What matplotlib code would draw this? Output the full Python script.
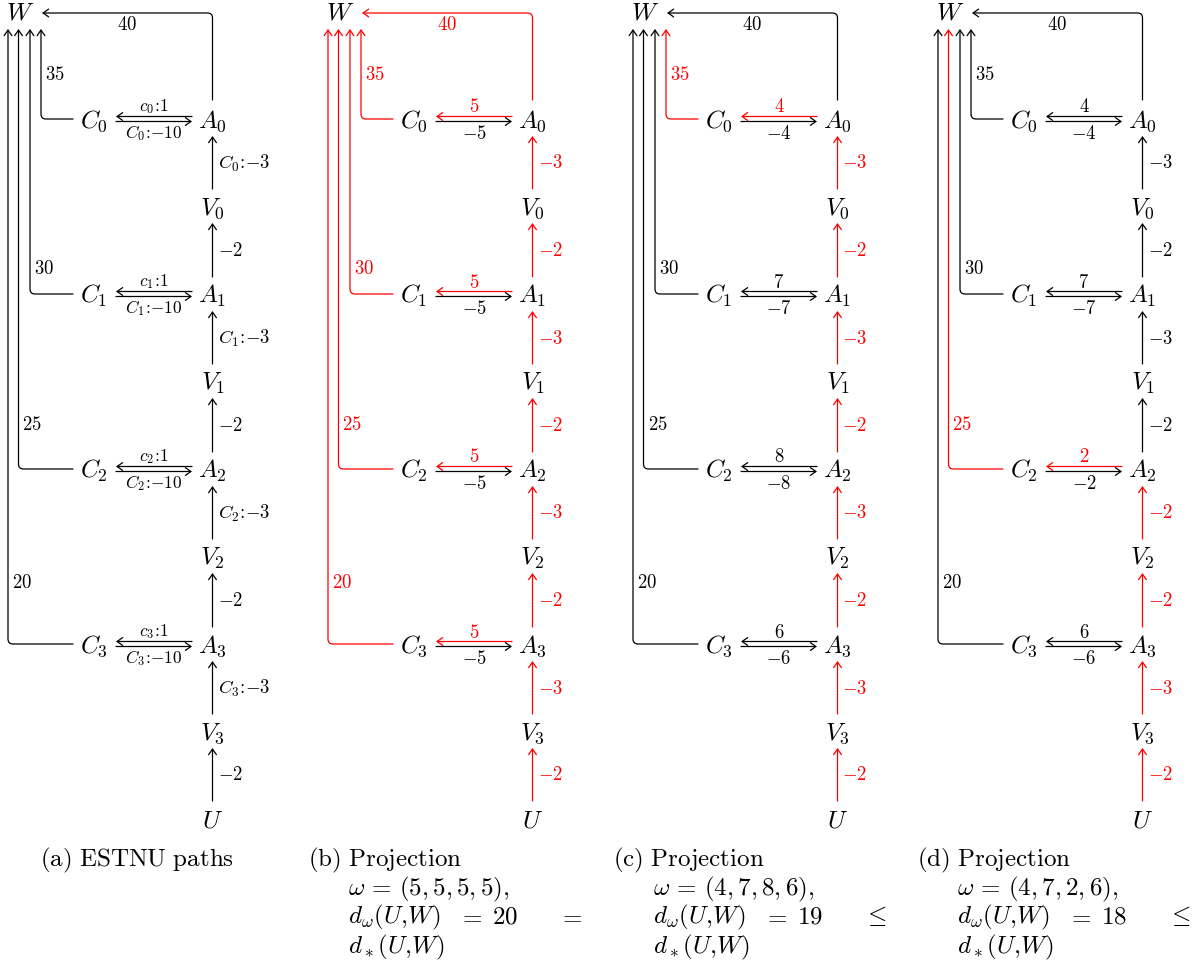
import matplotlib.pyplot as plt
from matplotlib.patches import FancyArrowPatch

plt.rcParams['mathtext.fontset'] = 'cm'

# ---- data ----
caption_tags = ['(a)', '(b)', '(c)', '(d)']
caption_titles = ['ESTNU paths', 'Projection', 'Projection', 'Projection']
omegas = [None, (5, 5, 5, 5), (4, 7, 8, 6), (4, 7, 2, 6)]
d_omega = [None, 20, 19, 18]
d_relation = [None, '=', r'\leq', r'\leq']

cw_weights = [35, 30, 25, 20]      # C_i -> W
aw_weight = 40                     # A_0 -> W
av_weight = -2                     # A_{i+1} -> V_i  and  U -> V_3
# V_i -> A_i in the projections (panel a shows C_i:-3)
va_weights = [None, [-3, -3, -3, -3], [-3, -3, -3, -3], [-3, -3, -2, -3]]
# A_i -> C_i / C_i -> A_i in the projections (panel a shows c_i:1 / C_i:-10)
upper_weights = [None, [5, 5, 5, 5], [4, 7, 8, 6], [4, 7, 2, 6]]

# highlighted (red) parts of each panel
red_cw = [[0, 0, 0, 0], [1, 1, 1, 1], [1, 0, 0, 0], [0, 0, 1, 0]]
red_upper = [[0, 0, 0, 0], [1, 1, 1, 1], [1, 0, 0, 0], [0, 0, 1, 0]]
red_aw = [0, 1, 0, 0]
red_chain = [0, 8, 8, 4]           # red edges counted upward from U

# ---- layout (pixels) ----
panel_x = [0, 320, 625, 930]
caption_x = [40, 308, 613, 917]
row_A = [119 + 175 * i for i in range(4)]
row_V = [206 + 175 * i for i in range(4)]
row_U = 818
x_W, y_W = 20, 14
x_C, x_A = 94, 212.5
x_cw = [41, 30, 18.5, 8]
cw_label_y = [75, 269, 425, 582]
gap = 17

RED = '#ff0000'
NODE_FS = 18
EDGE_FS = 13.5
SMALL_FS = 12.5

fig = plt.figure(figsize=(12.04, 9.66), dpi=100)
ax = fig.add_axes([0, 0, 1, 1])
ax.set_xlim(0, 1204)
ax.set_ylim(966, 0)
ax.axis('off')


def arrow(p0, p1, color, corner=None):
    if corner:
        cs = 'angle,angleA=%d,angleB=%d,rad=5' % corner
    else:
        cs = 'arc3,rad=0'
    ax.add_patch(FancyArrowPatch(p0, p1, arrowstyle='->,head_length=0.4,head_width=0.28',
                                 mutation_scale=10, connectionstyle=cs,
                                 shrinkA=0, shrinkB=0, color=color, lw=0.9))


def node(x, y, s):
    ax.text(x, y + 9, s, fontsize=NODE_FS, ha='center', va='baseline')


def col(flag):
    return RED if flag else 'black'


for p in range(4):
    ox = panel_x[p]
    xa = ox + x_A
    node(ox + x_W, y_W - 4, r'$W$')

    # A_0 -> W
    c = col(red_aw[p])
    arrow((xa, row_A[0] - 19), (ox + x_cw[0] + 1, 13), c, corner=(90, 0))
    ax.text(ox + 127, 25, r'$%d$' % aw_weight, fontsize=EDGE_FS, color=c,
            ha='center', va='center')

    for i in range(4):
        y = row_A[i]
        node(ox + x_C, y, r'$C_%d$' % i)
        node(xa, y, r'$A_%d$' % i)
        node(xa, row_V[i], r'$V_%d$' % i)

        # C_i -> W
        c = col(red_cw[p][i])
        arrow((ox + 73, y), (ox + x_cw[i], 29), c, corner=(0, 90))
        ax.text(ox + x_cw[i] + 4, cw_label_y[i], r'$%d$' % cw_weights[i],
                fontsize=EDGE_FS, color=c, ha='left', va='center')

        # A_i -> C_i (upper) and C_i -> A_i (lower)
        c = col(red_upper[p][i])
        arrow((ox + 192, y - 2.5), (ox + 116, y - 2.5), c)
        arrow((ox + 116, y + 2.5), (ox + 192, y + 2.5), 'black')
        if p == 0:
            up = r'$c_%d\!:\!1$' % i
            lo = r'$C_%d\!:\!{-10}$' % i
            fs = SMALL_FS
        else:
            up = r'$%d$' % upper_weights[p][i]
            lo = r'$%d$' % -upper_weights[p][i]
            fs = EDGE_FS
        ax.text(ox + 154, y - 12, up, fontsize=fs, color=c, ha='center', va='center')
        ax.text(ox + 154, y + 14.5, lo, fontsize=fs, ha='center', va='center')

    # vertical chain U -> V3 -> A3 -> V2 -> ... -> A0
    chain = [(row_U, row_V[3], r'$%d$' % av_weight)]
    for i in (3, 2, 1, 0):
        if p == 0:
            lab = r'$C_%d\!:\!{-3}$' % i
        else:
            lab = r'$%d$' % va_weights[p][i]
        chain.append((row_V[i], row_A[i], lab))
        if i > 0:
            chain.append((row_A[i], row_V[i - 1], r'$%d$' % av_weight))
    node(xa, row_U, r'$U$')
    for k, (y0, y1, lab) in enumerate(chain):
        c = col(k < red_chain[p])
        arrow((xa, y0 - gap), (xa, y1 + gap), c)
        ax.text(xa + 5, (y0 + y1) / 2 + 0.5, lab, fontsize=EDGE_FS, color=c,
                ha='left', va='center')

    # caption
    cx = caption_x[p]
    ax.text(cx, 866, r'$\mathrm{%s\ %s}$' % (caption_tags[p], caption_titles[p].replace(' ', r'\ ')),
            fontsize=NODE_FS, ha='left', va='baseline')
    if omegas[p] is not None:
        ix = cx + 40
        ax.text(ix, 895, r'$\omega\,=\,(%d,%d,%d,%d),$' % omegas[p],
                fontsize=NODE_FS, ha='left', va='baseline')
        ax.text(ix, 923, r'$d_\omega(U,\!W)$', fontsize=NODE_FS, ha='left', va='baseline')
        ax.text(ix + 122, 923, r'$=$', fontsize=NODE_FS, ha='center', va='baseline')
        ax.text(ix + 157, 923, r'$%d$' % d_omega[p], fontsize=NODE_FS, ha='center', va='baseline')
        ax.text(ix + 222, 923, r'$%s$' % d_relation[p], fontsize=NODE_FS, ha='center', va='baseline')
        ax.text(ix, 953, r'$d_*(U,\!W)$', fontsize=NODE_FS, ha='left', va='baseline')

fig.savefig('out.png', dpi=100)
